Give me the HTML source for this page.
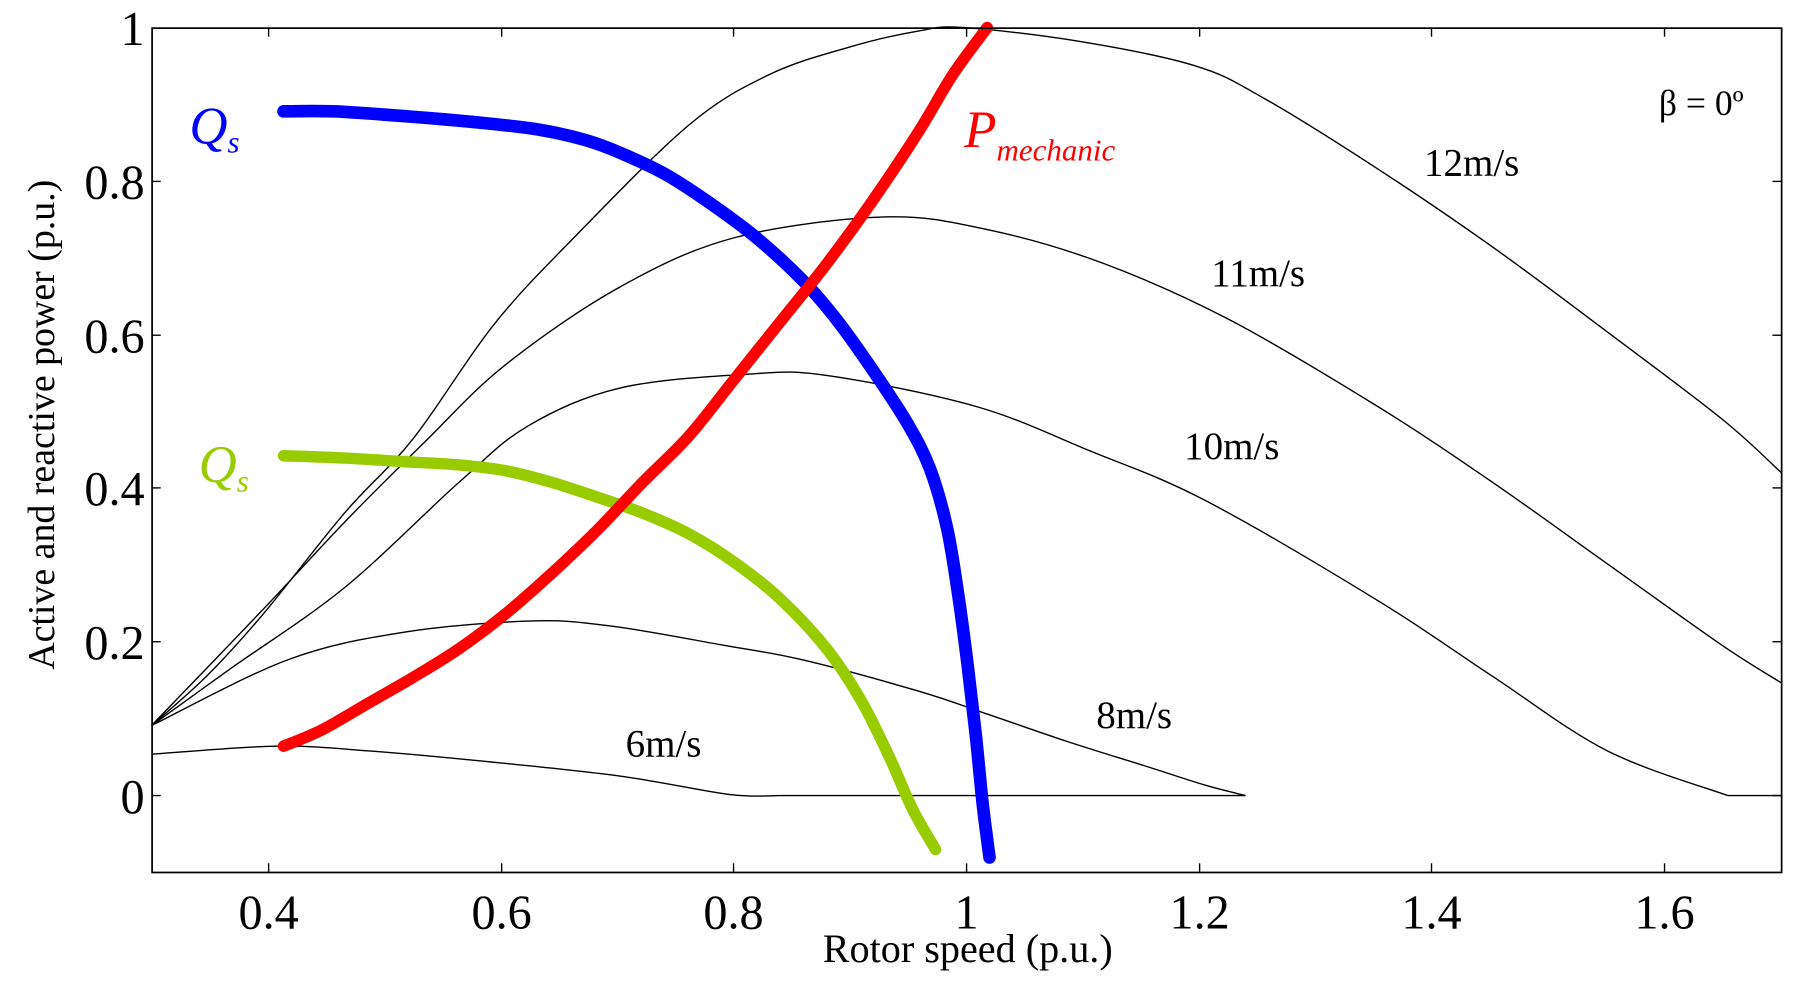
<!DOCTYPE html>
<html><head><meta charset="utf-8"><style>html,body{margin:0;padding:0;background:#fff;}svg{display:block}</style></head>
<body>
<svg id="s" width="1800" height="982" viewBox="0 0 1568 855.4" xmlns="http://www.w3.org/2000/svg" font-family="Liberation Serif, serif">
<rect x="0" y="0" width="1568" height="856" fill="#fff"/>
<g fill="none" stroke="#000" stroke-width="1.2">
<polyline class="sm" points="132,632 180,589 230,534 300,447 360,382 430,283 500,207 600,109 670,65 740,41 800,27 840,24 940,36 1040,57 1100,85 1200,147 1300,215 1400,289 1500,365 1552,412"/>
<polyline class="sm" points="132,632 230,530 300,455 370,385 440,318 540,250 640,207 770,189 860,200 960,229 1070,278 1200,354 1300,420 1400,491 1500,562 1552,595"/>
<polyline class="sm" points="132,632 200,583 300,512 400,420 460,371 540,338 650,326 720,327 850,354 950,393 1050,436 1200,523 1300,589 1400,654 1505,693"/>
<line x1="1505" y1="693" x2="1552" y2="693"/>
<polyline class="sm" points="132,632 250,575 350,551 460,541 530,545 630,562 700,575 800,602 860,622 930,646 1000,668 1050,684 1085,693"/>
<polyline class="sm" points="132,657 240,650 320,654 420,663 540,676 635,692 680,693"/>
<line x1="680" y1="693" x2="1085" y2="693"/>
</g>
<g fill="none" stroke-linecap="round" stroke-linejoin="round" stroke-width="10">
<polyline class="sm" stroke="#0000ff" stroke-width="11" points="247,97 290,97 350,101 420,107 470,113 510,122 540,133 580,152 620,178 660,208 700,245 730,280 760,322 790,368 810,408 825,460 835,520 843,580 850,640 856,700 862,747"/>
<polyline class="sm" stroke="#99cc00" points="247,397 300,399 350,402 400,405 440,410 480,420 520,433 560,447 600,465 640,490 680,522 720,565 750,610 775,660 795,705 815,740"/>
<polyline class="sm" stroke="#ff0000" points="247,650 280,636 320,613 360,590 400,565 440,535 480,500 520,462 560,420 600,380 640,330 680,280 720,230 760,175 800,115 830,65 860,24"/>
</g>
<rect x="132.5" y="24.5" width="1419.5" height="735.5" fill="none" stroke="#000" stroke-width="1.5"/>
<g stroke="#000" stroke-width="1.2">
<line x1="234" y1="760" x2="234" y2="752"/><line x1="234" y1="24" x2="234" y2="32"/>
<line x1="437" y1="760" x2="437" y2="752"/><line x1="437" y1="24" x2="437" y2="32"/>
<line x1="639" y1="760" x2="639" y2="752"/><line x1="639" y1="24" x2="639" y2="32"/>
<line x1="842" y1="760" x2="842" y2="752"/><line x1="842" y1="24" x2="842" y2="32"/>
<line x1="1045" y1="760" x2="1045" y2="752"/><line x1="1045" y1="24" x2="1045" y2="32"/>
<line x1="1247" y1="760" x2="1247" y2="752"/><line x1="1247" y1="24" x2="1247" y2="32"/>
<line x1="1450" y1="760" x2="1450" y2="752"/><line x1="1450" y1="24" x2="1450" y2="32"/>
<line x1="132" y1="693" x2="140" y2="693"/><line x1="1552" y1="693" x2="1544" y2="693"/>
<line x1="132" y1="559" x2="140" y2="559"/><line x1="1552" y1="559" x2="1544" y2="559"/>
<line x1="132" y1="425" x2="140" y2="425"/><line x1="1552" y1="425" x2="1544" y2="425"/>
<line x1="132" y1="292" x2="140" y2="292"/><line x1="1552" y1="292" x2="1544" y2="292"/>
<line x1="132" y1="158" x2="140" y2="158"/><line x1="1552" y1="158" x2="1544" y2="158"/>
</g>
<g font-size="42" text-anchor="end">
<text x="126" y="708">0</text><text x="126" y="574">0.2</text><text x="126" y="440">0.4</text>
<text x="126" y="307">0.6</text><text x="126" y="173">0.8</text><text x="126" y="39">1</text>
</g>
<g font-size="42" text-anchor="middle">
<text x="234" y="809">0.4</text><text x="437" y="809">0.6</text><text x="639" y="809">0.8</text>
<text x="842" y="809">1</text><text x="1045" y="809">1.2</text><text x="1247" y="809">1.4</text><text x="1450" y="809">1.6</text>
<text x="843" y="838" font-size="35">Rotor speed (p.u.)</text>
<text transform="translate(47,370) rotate(-90)" font-size="33">Active and reactive power (p.u.)</text>
</g>
<g font-size="34" text-anchor="middle">
<text x="1282" y="153">12m/s</text><text x="1096" y="249">11m/s</text><text x="1073" y="400">10m/s</text>
<text x="988" y="634">8m/s</text><text x="578" y="659">6m/s</text>
<text x="1482" y="100" font-size="31">β = 0º</text>
</g>
<g font-style="italic" font-size="46">
<text x="165" y="125" fill="#0000ff">Q<tspan font-size="27" dy="8">s</tspan></text>
<text x="173" y="420" fill="#99cc00">Q<tspan font-size="27" dy="8">s</tspan></text>
<text x="840" y="128" fill="#ff0000">P<tspan font-size="27" dy="12">mechanic</tspan></text>
</g>
</svg>
<script>
document.querySelectorAll('polyline.sm').forEach(function(pl){
  var p=pl.getAttribute('points').trim().split(/\s+/).map(function(s){return s.split(',').map(Number);});
  var d='M'+p[0][0]+','+p[0][1];
  for(var i=0;i<p.length-1;i++){
    var p0=p[i-1]||p[i],p1=p[i],p2=p[i+1],p3=p[i+2]||p2;
    var c1x=p1[0]+(p2[0]-p0[0])/6,c1y=p1[1]+(p2[1]-p0[1])/6;
    var c2x=p2[0]-(p3[0]-p1[0])/6,c2y=p2[1]-(p3[1]-p1[1])/6;
    d+=' C'+c1x+','+c1y+' '+c2x+','+c2y+' '+p2[0]+','+p2[1];
  }
  var path=document.createElementNS('http://www.w3.org/2000/svg','path');
  for(var k=0;k<pl.attributes.length;k++){var a=pl.attributes[k];if(a.name!='points'&&a.name!='class')path.setAttribute(a.name,a.value);}
  path.setAttribute('d',d);
  pl.parentNode.replaceChild(path,pl);
});
</script>
</body></html>
